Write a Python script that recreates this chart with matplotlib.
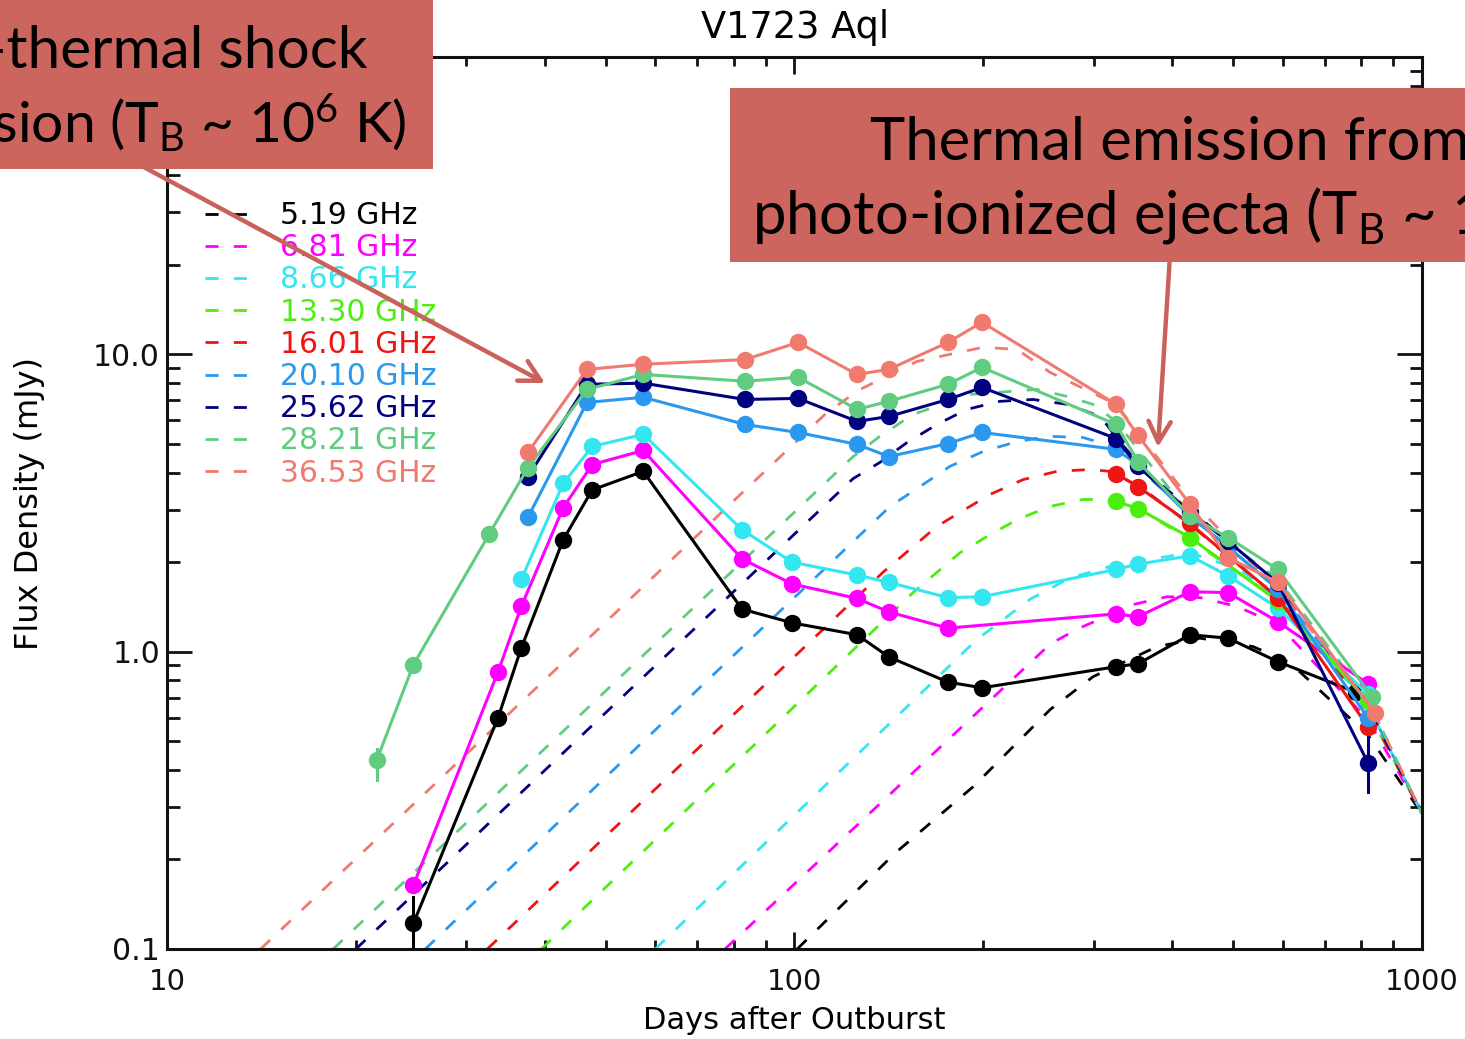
import matplotlib
matplotlib.use("Agg")
import matplotlib.pyplot as plt
from matplotlib.lines import Line2D
from matplotlib.patches import Rectangle, FancyArrowPatch
from matplotlib.ticker import FixedLocator, FixedFormatter, LogLocator, NullFormatter

plt.rcParams['font.family'] = ['DejaVu Sans']
plt.rcParams['mathtext.fontset'] = 'custom'
plt.rcParams['mathtext.rm'] = 'Lato'
plt.rcParams['mathtext.it'] = 'Lato:italic'
plt.rcParams['mathtext.bf'] = 'Lato:bold'

# ---------------- text ----------------
title = "V1723 Aql"
xlabel = "Days after Outburst"
ylabel = "Flux Density (mJy)"
freq_labels = ["5.19 GHz", "6.81 GHz", "8.66 GHz", "13.30 GHz", "16.01 GHz",
               "20.10 GHz", "25.62 GHz", "28.21 GHz", "36.53 GHz"]
series_colors = ["#000000", "#ff00ff", "#33e6f0", "#4cee10", "#ee1515",
                 "#2a98ee", "#000080", "#60cc80", "#f07a6e"]
x_ticks = [10, 100, 1000]
x_tick_labels = ["10", "100", "1000"]
y_ticks = [0.1, 1, 10, 100]
y_tick_labels = ["0.1", "1.0", "10.0", ""]

left_note_1 = "Non-thermal shock"
left_note_2 = r"emission (T$_\mathrm{B}$ ~ 10$^6$ K)"
right_note_1 = "Thermal emission from"
right_note_2 = r"photo-ionized ejecta (T$_\mathrm{B}$ ~ 10$^4$ K)"

# ---------------- observed light curves (days, mJy) ----------------
days_519 = [24.7, 33.7, 36.7, 42.8, 47.6, 57.4, 82.5, 99.1, 125.8, 141.4, 175.6, 199.0,
            325.4, 352.7, 426.8, 491.0, 589.5, 785.0]
flux_519 = [0.122, 0.60, 1.03, 2.38, 3.50, 4.04, 1.39, 1.25, 1.14, 0.96, 0.79, 0.756,
            0.89, 0.91, 1.14, 1.11, 0.925, 0.73]

days_681 = [24.7, 33.7, 36.7, 42.8, 47.6, 57.4, 82.5, 99.1, 125.8, 141.4, 175.6,
            325.4, 352.7, 426.8, 491.0, 589.5, 820.0]
flux_681 = [0.164, 0.856, 1.42, 3.05, 4.26, 4.75, 2.05, 1.69, 1.51, 1.36, 1.20,
            1.34, 1.31, 1.59, 1.58, 1.26, 0.78]

days_866 = [36.7, 42.8, 47.6, 57.4, 82.5, 99.1, 125.8, 141.4, 175.6, 199.0,
            325.4, 352.7, 426.8, 491.0, 589.5, 820.0]
flux_866 = [1.75, 3.68, 4.90, 5.38, 2.57, 2.00, 1.81, 1.71, 1.52, 1.53,
            1.89, 1.97, 2.10, 1.80, 1.40, 0.72]

days_1330 = [325.4, 352.7, 426.8, 589.5, 820.0]
flux_1330 = [3.20, 3.03, 2.42, 1.48, 0.68]

days_1601 = [325.4, 352.7, 426.8, 491.0, 589.5, 820.0]
flux_1601 = [3.97, 3.59, 2.70, 2.10, 1.52, 0.56]

days_2010 = [37.6, 46.7, 57.4, 83.4, 101.3, 125.8, 141.4, 175.6, 199.0,
             325.4, 352.7, 426.8, 491.0, 589.5, 820.0]
flux_2010 = [2.83, 6.89, 7.17, 5.81, 5.46, 4.98, 4.53, 5.01, 5.46,
             4.79, 4.25, 2.85, 2.25, 1.62, 0.60]

days_2562 = [37.6, 46.7, 57.4, 83.4, 101.3, 125.8, 141.4, 175.6, 199.0,
             325.4, 352.7, 426.8, 491.0, 589.5, 820.0]
flux_2562 = [3.88, 7.93, 8.00, 7.05, 7.11, 5.95, 6.18, 7.05, 7.74,
             5.21, 4.20, 2.95, 2.35, 1.70, 0.423]

days_2821 = [21.6, 24.7, 32.6, 37.6, 46.7, 57.4, 83.4, 101.3, 125.8, 141.4, 175.6, 199.0,
             325.4, 352.7, 426.8, 491.0, 589.5, 832.0]
flux_2821 = [0.433, 0.904, 2.48, 4.16, 7.62, 8.56, 8.12, 8.37, 6.53, 6.95, 7.93, 9.04,
             5.81, 4.36, 2.86, 2.42, 1.89, 0.706]

days_3653 = [37.6, 46.7, 57.4, 83.4, 101.3, 125.8, 141.4, 175.6, 199.0,
             325.4, 352.7, 426.8, 491.0, 589.5, 841.0]
flux_3653 = [4.68, 8.90, 9.26, 9.60, 10.97, 8.56, 8.90, 10.97, 12.82,
             6.79, 5.34, 3.13, 2.07, 1.71, 0.623]

# error bars (day, low, high) for the few points that show them
err_519 = (24.7, 0.09, 0.15)
err_2562 = (820.0, 0.338, 0.517)
err_2821 = (21.6, 0.37, 0.47)

# ---------------- model curves (dashed) ----------------
m519_d = [101.0, 144.6, 192.5, 255.4, 299.1, 378.2, 442.8, 538.0, 616.0, 820.0, 1000.0]
m519_f = [0.100, 0.210, 0.351, 0.638, 0.824, 1.04, 1.11, 1.04, 0.918, 0.525, 0.285]

m681_d = [77.5, 255.4, 282.0, 346.3, 392.3, 442.8, 507.2, 566.2, 616.0, 820.0, 946.4, 1000.0]
m681_f = [0.100, 1.06, 1.19, 1.44, 1.53, 1.52, 1.42, 1.28, 1.12, 0.59, 0.351, 0.29]

m866_d = [60.0, 195.4, 237.3, 274.8, 325.4, 426.8, 512.9, 589.5, 820.0, 1000.0]
m866_f = [0.100, 1.10, 1.50, 1.77, 1.96, 2.15, 1.89, 1.50, 0.66, 0.285]

m1330_d = [39.5, 154.5, 183.5, 202.7, 226.3, 255.4, 288.4, 310.2, 325.4, 355.3, 426.8, 589.5, 820.0, 1000.0]
m1330_f = [0.100, 1.58, 2.15, 2.44, 2.78, 3.08, 3.25, 3.25, 3.18, 3.01, 2.38, 1.50, 0.63, 0.285]

m1601_d = [32.4, 138.4, 168.7, 183.5, 205.0, 231.3, 262.0, 295.8, 318.3, 355.3, 426.8, 589.5, 820.0, 1000.0]
m1601_f = [0.100, 1.85, 2.64, 2.94, 3.38, 3.79, 4.04, 4.10, 4.04, 3.59, 2.68, 1.52, 0.64, 0.285]

m2010_d = [25.8, 142.0, 160.3, 176.9, 199.7, 226.3, 255.4, 288.4, 325.4, 426.8, 589.5, 820.0, 1000.0]
m2010_f = [0.100, 3.08, 3.65, 4.20, 4.71, 5.09, 5.30, 5.25, 4.86, 2.89, 1.62, 0.66, 0.285]

m2562_d = [20.0, 124.0, 136.8, 151.1, 168.7, 188.3, 212.6, 240.0, 271.9, 306.9, 355.3, 426.8, 589.5, 820.0, 1000.0]
m2562_f = [0.100, 3.82, 4.33, 5.05, 5.81, 6.53, 6.95, 7.05, 6.79, 6.18, 4.20, 3.01, 1.68, 0.66, 0.285]

m2821_d = [18.4, 124.0, 136.8, 154.5, 190.4, 243.5, 271.9, 299.1, 325.4, 426.8, 589.5, 820.0, 1000.0]
m2821_f = [0.100, 4.53, 5.30, 6.28, 7.33, 7.62, 7.22, 6.79, 5.95, 2.89, 1.75, 0.69, 0.285]

m3653_d = [14.1, 112.7, 127.2, 156.8, 199.7, 226.3, 255.4, 325.4, 426.8, 589.5, 820.0, 1000.0]
m3653_f = [0.100, 6.38, 7.62, 9.47, 10.56, 10.39, 8.70, 6.79, 3.25, 1.62, 0.69, 0.285]

obs_days = [days_519, days_681, days_866, days_1330, days_1601, days_2010, days_2562, days_2821, days_3653]
obs_flux = [flux_519, flux_681, flux_866, flux_1330, flux_1601, flux_2010, flux_2562, flux_2821, flux_3653]
mod_days = [m519_d, m681_d, m866_d, m1330_d, m1601_d, m2010_d, m2562_d, m2821_d, m3653_d]
mod_flux = [m519_f, m681_f, m866_f, m1330_f, m1601_f, m2010_f, m2562_f, m2821_f, m3653_f]

# ---------------- figure ----------------
W, H = 1465, 1039
fig = plt.figure(figsize=(W / 100, H / 100), dpi=100)
ax = fig.add_axes([167 / W, 90 / H, 1255 / W, 892 / H])
ax.set_xscale('log')
ax.set_yscale('log')
ax.set_xlim(10, 1000)
ax.set_ylim(0.1, 100)

dash = (0, (4.7, 5.5))
for d, f, c in zip(mod_days, mod_flux, series_colors):
    ax.plot(d, f, color=c, lw=2.0, ls=dash, zorder=2)

for d, f, c in zip(obs_days, obs_flux, series_colors):
    ax.plot(d, f, color=c, lw=2.2, marker='o', ms=11.5, zorder=3)

for (x, lo, hi), c in [(err_519, series_colors[0]), (err_2562, series_colors[6]),
                       (err_2821, series_colors[7])]:
    ax.plot([x, x], [lo, hi], color=c, lw=2.2, zorder=3)

# ticks
ax.xaxis.set_major_locator(FixedLocator(x_ticks))
ax.xaxis.set_major_formatter(FixedFormatter(x_tick_labels))
ax.xaxis.set_minor_locator(LogLocator(base=10, subs=range(2, 10)))
ax.xaxis.set_minor_formatter(NullFormatter())
ax.yaxis.set_major_locator(FixedLocator(y_ticks))
ax.yaxis.set_major_formatter(FixedFormatter(y_tick_labels))
ax.yaxis.set_minor_locator(LogLocator(base=10, subs=range(2, 10)))
ax.yaxis.set_minor_formatter(NullFormatter())

ax.tick_params(which='both', direction='in', top=True, right=True, width=2, colors='#111111')
ax.tick_params(axis='x', which='major', length=12, pad=14, labelsize=21)
ax.tick_params(axis='x', which='minor', length=6.5)
ax.tick_params(axis='y', which='major', length=18, pad=5, labelsize=21.5)
ax.tick_params(axis='y', which='minor', length=9)
for s in ax.spines.values():
    s.set_linewidth(2.2)
    s.set_color('#111111')

ax.set_xlabel(xlabel, fontsize=22)
ax.xaxis.set_label_coords(0.5, -0.064)
ax.set_ylabel(ylabel, fontsize=23)
ax.yaxis.set_label_coords(-0.097, 0.5)
fig.text(795 / W, 1 - 28 / H, title, ha='center', va='center', fontsize=26.5)

handles = [Line2D([], [], color=c, lw=2.0, ls=dash) for c in series_colors]
ax.legend(handles, freq_labels, loc='upper left', bbox_to_anchor=(0.0303, 0.8385),
          frameon=False, fontsize=21.5, labelcolor=series_colors, borderpad=0,
          borderaxespad=0, handlelength=1.5, handletextpad=1.0, labelspacing=0.107)

# ---------------- annotation boxes and arrows ----------------
box_color = '#cc655e'
arrow_color = '#c9625a'
fig.add_artist(FancyArrowPatch(posA=(140 / W, 1 - 165 / H), posB=(545 / W, 1 - 383 / H),
                               transform=fig.transFigure,
                               arrowstyle='->,head_length=0.75,head_width=0.4',
                               mutation_scale=20, lw=3.2, color=arrow_color,
                               shrinkA=0, shrinkB=0, zorder=9))
fig.add_artist(FancyArrowPatch(posA=(1170 / W, 1 - 255 / H), posB=(1158 / W, 1 - 447 / H),
                               transform=fig.transFigure,
                               arrowstyle='->,head_length=0.75,head_width=0.4',
                               mutation_scale=20, lw=3.2, color=arrow_color,
                               shrinkA=0, shrinkB=0, zorder=9))
fig.add_artist(Rectangle((-0.01, 1 - 169 / H), 0.01 + 433 / W, 169 / H + 0.01,
                         transform=fig.transFigure, facecolor=box_color,
                         edgecolor='none', zorder=10))
fig.add_artist(Rectangle((730 / W, 1 - 262 / H), 0.52, 174 / H,
                         transform=fig.transFigure, facecolor=box_color,
                         edgecolor='none', zorder=10))

left_kw1 = dict(fontsize=42.2, family='Lato', color='black', va='baseline', zorder=11)
left_kw2 = dict(fontsize=41.0, family='Lato', color='black', va='baseline', zorder=11)
right_kw = dict(fontsize=43.0, family='Lato', color='black', va='baseline', zorder=11)
fig.text(368 / W, 1 - 68 / H, left_note_1, ha='right', **left_kw1)
fig.text(406 / W, 1 - 142 / H, left_note_2, ha='right', **left_kw2)
fig.text(870 / W, 1 - 160 / H, right_note_1, ha='left', **right_kw)
fig.text(752 / W, 1 - 235 / H, right_note_2, ha='left', **right_kw)

fig.savefig("out.png", dpi=100)
